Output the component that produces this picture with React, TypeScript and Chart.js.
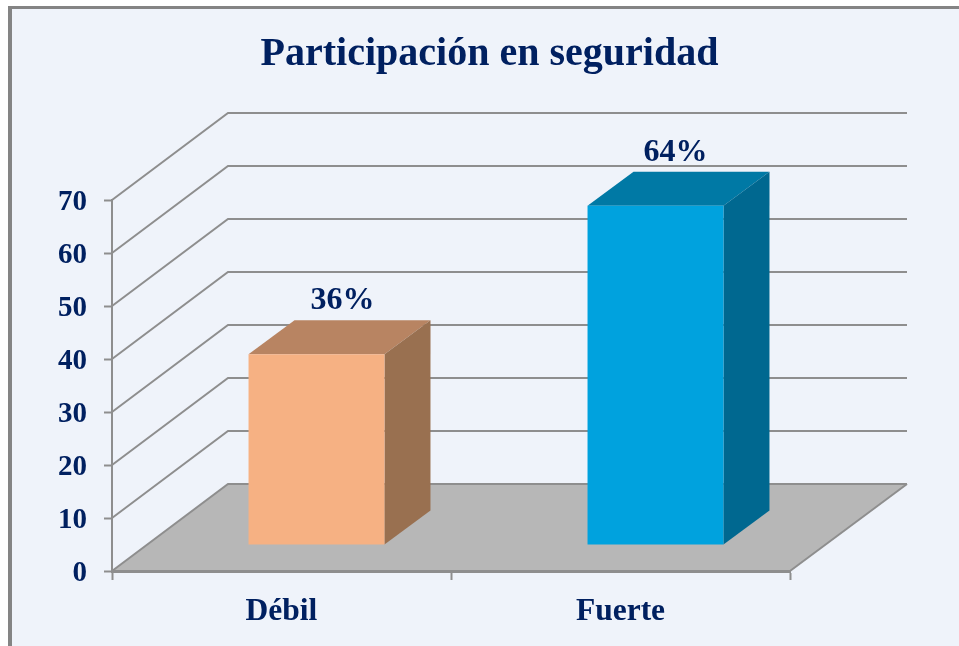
import { useEffect, useRef } from "react";
import { Chart, registerables } from "chart.js";

Chart.register(...registerables);

const categories = ["Débil", "Fuerte"];
const values = [36, 64];
const valueLabels = ["36%", "64%"];
const frontColors = ["#F6B183", "#00A2DE"];
const topColors = ["#B88462", "#0079A5"];
const sideColors = ["#997050", "#006890"];
const yTicks = [0, 10, 20, 30, 40, 50, 60, 70];
const titleText = "Participación en seguridad";

const NAVY = "#002060";
const GRID = "#8E8E8E";
const WALL = { dx: 116, dy: -87 };
const BAR = { shiftX: 35, shiftY: -26, dx: 46, dy: -34 };
const LABEL_DX = [26, 20];
const SERIF = "'Liberation Serif', 'Times New Roman', serif";

const scene3d = {
  id: "scene3d",
  beforeDraw(chart: any) {
    const { ctx, width, height } = chart;
    const x = chart.scales.x;
    const y = chart.scales.y;
    ctx.save();
    ctx.fillStyle = "#848484";
    ctx.fillRect(8, 6, width - 8, height - 6);
    ctx.fillStyle = "#EFF3FA";
    ctx.fillRect(12, 9, width - 12, height - 9);

    const left = x.left;
    const right = x.right;
    const base = y.getPixelForValue(0);
    ctx.fillStyle = "#B7B7B7";
    ctx.beginPath();
    ctx.moveTo(left, base);
    ctx.lineTo(right, base);
    ctx.lineTo(right + WALL.dx + 1, base + WALL.dy);
    ctx.lineTo(left + WALL.dx, base + WALL.dy);
    ctx.closePath();
    ctx.fill();

    ctx.strokeStyle = GRID;
    ctx.lineWidth = 2;
    ctx.beginPath();
    ctx.moveTo(right, base);
    ctx.lineTo(right + WALL.dx + 1, base + WALL.dy);
    ctx.stroke();

    for (const v of yTicks) {
      const py = y.getPixelForValue(v);
      ctx.beginPath();
      ctx.moveTo(left, py);
      ctx.lineTo(left + WALL.dx, py + WALL.dy);
      ctx.lineTo(right + WALL.dx + 1, py + WALL.dy);
      ctx.stroke();
    }
    ctx.restore();
  },
  beforeDatasetsDraw(chart: any) {
    const { ctx } = chart;
    ctx.save();
    ctx.translate(BAR.shiftX, BAR.shiftY);
    chart.getDatasetMeta(0).data.forEach((bar: any, i: number) => {
      const x1 = bar.x + bar.width / 2;
      const x0 = bar.x - bar.width / 2;
      ctx.fillStyle = topColors[i];
      ctx.beginPath();
      ctx.moveTo(x0, bar.y);
      ctx.lineTo(x0 + BAR.dx, bar.y + BAR.dy);
      ctx.lineTo(x1 + BAR.dx, bar.y + BAR.dy);
      ctx.lineTo(x1, bar.y);
      ctx.closePath();
      ctx.fill();
      ctx.fillStyle = sideColors[i];
      ctx.beginPath();
      ctx.moveTo(x1, bar.y);
      ctx.lineTo(x1 + BAR.dx, bar.y + BAR.dy);
      ctx.lineTo(x1 + BAR.dx, bar.base + BAR.dy);
      ctx.lineTo(x1, bar.base);
      ctx.closePath();
      ctx.fill();
    });
  },
  afterDatasetsDraw(chart: any) {
    const { ctx } = chart;
    ctx.restore();
    ctx.save();
    ctx.font = `bold 32px ${SERIF}`;
    ctx.fillStyle = NAVY;
    ctx.textAlign = "center";
    ctx.textBaseline = "middle";
    chart.getDatasetMeta(0).data.forEach((bar: any, i: number) => {
      ctx.fillText(
        valueLabels[i],
        bar.x + BAR.shiftX + LABEL_DX[i],
        bar.y + BAR.shiftY + BAR.dy - 19
      );
    });
    ctx.restore();
  },
};

export default function App() {
  const ref = useRef<HTMLCanvasElement>(null);
  useEffect(() => {
    const chart = new Chart(ref.current as HTMLCanvasElement, {
      type: "bar",
      data: {
        labels: categories,
        datasets: [
          {
            data: values,
            yAxisID: "y",
            backgroundColor: frontColors,
            borderWidth: 0,
            barPercentage: 0.401,
            categoryPercentage: 1,
          },
        ],
      },
      options: {
        responsive: false,
        animation: false,
        layout: { padding: { left: 20, right: 0, top: 0, bottom: 0 } },
        plugins: {
          legend: { display: false },
          tooltip: { enabled: false },
          title: {
            display: true,
            text: titleText,
            color: NAVY,
            font: { family: SERIF, size: 40, weight: "bold", lineHeight: 1 },
            padding: { top: 35, bottom: 125 },
          },
        },
        scales: {
          x: {
            offset: true,
            grid: {
              display: true,
              drawOnChartArea: false,
              drawTicks: true,
              tickLength: 9,
              tickColor: GRID,
              tickWidth: 2,
            },
            border: { display: true, color: GRID, width: 3 },
            ticks: {
              color: NAVY,
              font: { family: SERIF, size: 31.5, weight: "bold" },
              padding: 13,
              maxRotation: 0,
            },
            afterFit: (s: any) => {
              s.height = 75;
            },
          },
          y: {
            position: "left",
            min: 0,
            max: 70,
            grid: {
              drawOnChartArea: false,
              drawTicks: true,
              tickLength: 8,
              tickColor: GRID,
              tickWidth: 2,
            },
            border: { display: true, color: GRID, width: 2 },
            ticks: {
              stepSize: 10,
              color: NAVY,
              font: { family: SERIF, size: 29, weight: "bold" },
              padding: 17,
              labelOffset: 2.5,
            },
            afterFit: (s: any) => {
              s.width = 92;
            },
          },
          spacer: {
            type: "linear",
            axis: "y",
            position: "right",
            grid: { display: false },
            border: { display: false },
            ticks: { display: false },
            afterFit: (s: any) => {
              s.width = 169;
            },
          },
        },
      },
      plugins: [scene3d],
    } as any);
    return () => chart.destroy();
  }, []);
  return (
    <canvas
      ref={ref}
      width={959}
      height={646}
      style={{ position: "absolute", left: 0, top: 0, display: "block" }}
    />
  );
}
